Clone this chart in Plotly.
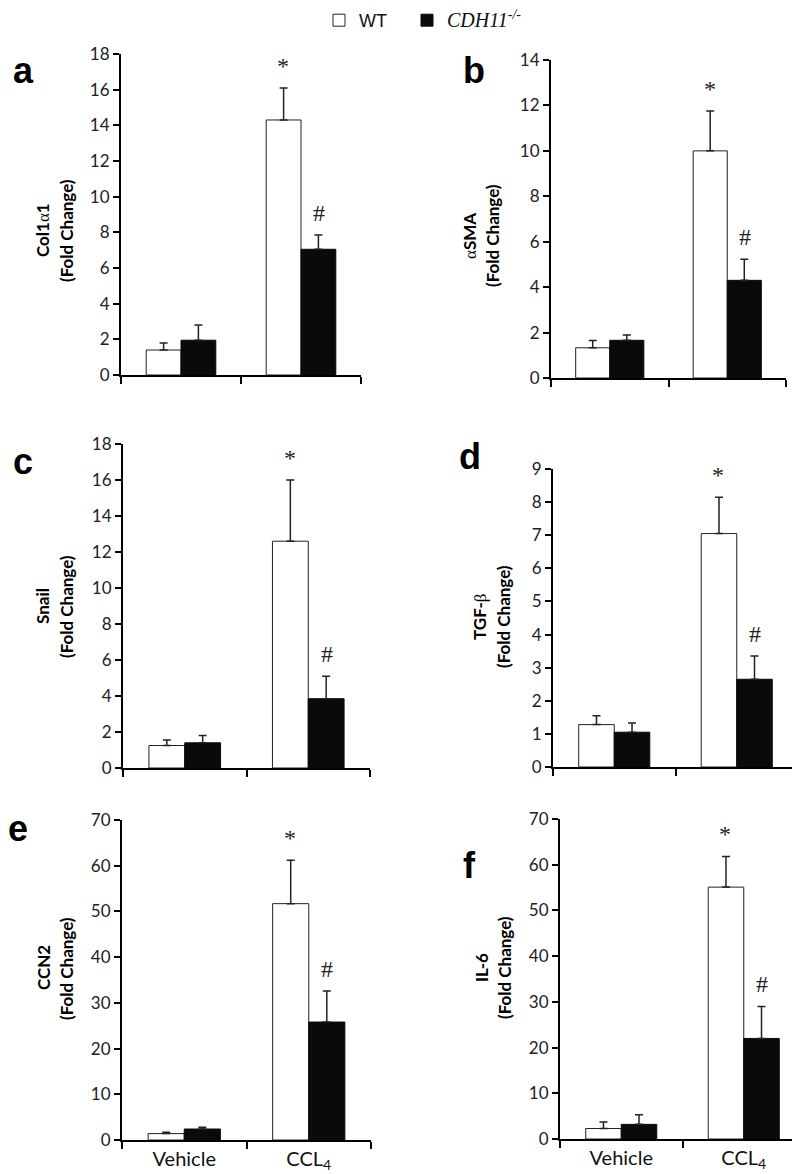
import plotly.graph_objects as go

W, H = 800, 1174

groups = ["Vehicle", "CCL<sub>4</sub>"]
panel_letters = ["a", "b", "c", "d", "e", "f"]
GREEK = "<span style='font-family:Liberation Serif'>%s</span>"
gene_titles = ["<b>Col1</b>" + GREEK % "α" + "<b>1</b>", GREEK % "α" + "<b>SMA</b>", "<b>Snail</b>",
               "<b>TGF-</b>" + GREEK % "β", "<b>CCN2</b>", "<b>IL-6</b>"]

wt_mean = [[1.4, 14.3], [1.33, 10.0], [1.25, 12.6], [1.28, 7.05], [1.4, 51.7], [2.3, 55.1]]
wt_err = [[0.4, 1.8], [0.32, 1.75], [0.3, 3.4], [0.27, 1.1], [0.3, 9.5], [1.4, 6.7]]
ko_mean = [[1.95, 7.05], [1.66, 4.3], [1.4, 3.85], [1.05, 2.65], [2.4, 25.8], [3.2, 22.0]]
ko_err = [[0.85, 0.8], [0.23, 0.93], [0.4, 1.25], [0.28, 0.7], [0.4, 6.8], [2.1, 7.0]]
y_max = [18, 14, 18, 9, 70, 70]
y_step = [2, 2, 2, 1, 10, 10]
wt_mark = [["", "*"]] * 6
ko_mark = [["", "#"]] * 6

# panel boxes in pixels: (left, right, top, bottom)
boxes = [(113, 353, 46, 367), (543, 778, 52, 370),
         (115, 362, 436, 760), (545, 790, 461, 759),
         (114, 363, 812, 1132), (552, 797, 811, 1131)]
letter_pos = [(15, 62), (466, 63), (15, 454), (462, 448), (10, 820), (461, 857)]
title_pos = [(34, 58, 222), (461, 484, 228), (34, 58, 598), (471, 495, 609), (35, 58, 960), (473, 496, 960)]

FONT = "Lato"
fig = go.Figure()
layout = dict(width=W, height=H, margin=dict(l=0, r=0, t=0, b=0, autoexpand=False),
              plot_bgcolor="white", paper_bgcolor="white",
              barmode="group", bargap=0.42, bargroupgap=0.0,
              showlegend=True,
              legend=dict(orientation="h", x=311 / W, y=1 + 6 / H, xanchor="left", yanchor="top",
                          font=dict(family="Liberation Sans", size=18, color="#111"),
                          itemwidth=30, bgcolor="rgba(0,0,0,0)", tracegroupgap=0),
              )
annotations = []


def px_x(v):
    return v / W


def px_y(v):
    return 1 - v / H


for i in range(6):
    n = "" if i == 0 else str(i + 1)
    l, r, t, b = boxes[i]
    xa = "x" + n
    ya = "y" + n
    fig.add_trace(go.Bar(x=groups, y=wt_mean[i], name="WT" + "\u00a0" * 3, xaxis=xa, yaxis=ya,
                         marker=dict(color="white", line=dict(color="#222", width=1)),
                         error_y=dict(type="data", symmetric=False, array=wt_err[i], arrayminus=[0, 0],
                                      color="#222", thickness=1.5, width=4),
                         showlegend=(i == 0), legendgroup="wt", offsetgroup="wt"))
    fig.add_trace(go.Bar(x=groups, y=ko_mean[i],
                         name="<span style='font-family:Liberation Serif;font-size:20px'><i>CDH11</i><sup><i>-/-</i></sup></span>",
                         xaxis=xa, yaxis=ya,
                         marker=dict(color="#0a0a0a", line=dict(color="#0a0a0a", width=1)),
                         error_y=dict(type="data", symmetric=False, array=ko_err[i], arrayminus=[0, 0],
                                      color="#222", thickness=1.5, width=4),
                         showlegend=(i == 0), legendgroup="ko", offsetgroup="ko"))
    show_lbl = i >= 4
    layout["xaxis" + n] = dict(domain=[px_x(l), px_x(r)], anchor=ya, type="category",
                               range=[-0.5, 1.5], showline=True, linecolor="black", linewidth=2,
                               ticks="outside", tickson="boundaries", ticklen=7, tickwidth=2,
                               tickcolor="black", showgrid=False, zeroline=False,
                               showticklabels=show_lbl,
                               tickfont=dict(family=FONT, size=20, color="#111"))
    layout["yaxis" + n] = dict(domain=[px_y(b), px_y(t)], anchor=xa, range=[0, y_max[i]],
                               tickmode="linear", tick0=0, dtick=y_step[i],
                               showline=True, linecolor="black", linewidth=2,
                               ticks="outside", ticklen=6, tickwidth=2, tickcolor="black",
                               showgrid=False, zeroline=False,
                               tickfont=dict(family=FONT, size=17, color="#222"))
    # panel letter
    lx, ly = letter_pos[i]
    annotations.append(dict(text="<b>%s</b>" % panel_letters[i], x=px_x(lx), y=px_y(ly),
                            xref="paper", yref="paper", showarrow=False,
                            xanchor="center", yanchor="middle",
                            font=dict(family="Liberation Sans", size=36, color="black")))
    # axis title (two lines)
    x1, x2, yc = title_pos[i]
    annotations.append(dict(text=gene_titles[i], x=px_x(x1), y=px_y(yc), xref="paper", yref="paper",
                            showarrow=False, textangle=-90, xanchor="center", yanchor="middle",
                            font=dict(family=FONT, size=17, color="black")))
    annotations.append(dict(text="<b>(Fold Change)</b>", x=px_x(x2), y=px_y(yc), xref="paper", yref="paper",
                            showarrow=False, textangle=-90, xanchor="center", yanchor="middle",
                            font=dict(family=FONT, size=17, color="black")))
    # significance marks
    for k in range(2):
        for mean, err, marks, off in ((wt_mean[i], wt_err[i], wt_mark[i], -0.15),
                                      (ko_mean[i], ko_err[i], ko_mark[i], 0.15)):
            if marks[k]:
                annotations.append(dict(text=marks[k], x=k + off, y=mean[k] + err[k], xref=xa, yref=ya,
                                        showarrow=False, xanchor="center", yanchor="middle", yshift=22,
                                        font=dict(family="Liberation Serif", size=24, color="#222")))

layout["annotations"] = annotations
fig.update_layout(**layout)
fig.write_html("out.html")
